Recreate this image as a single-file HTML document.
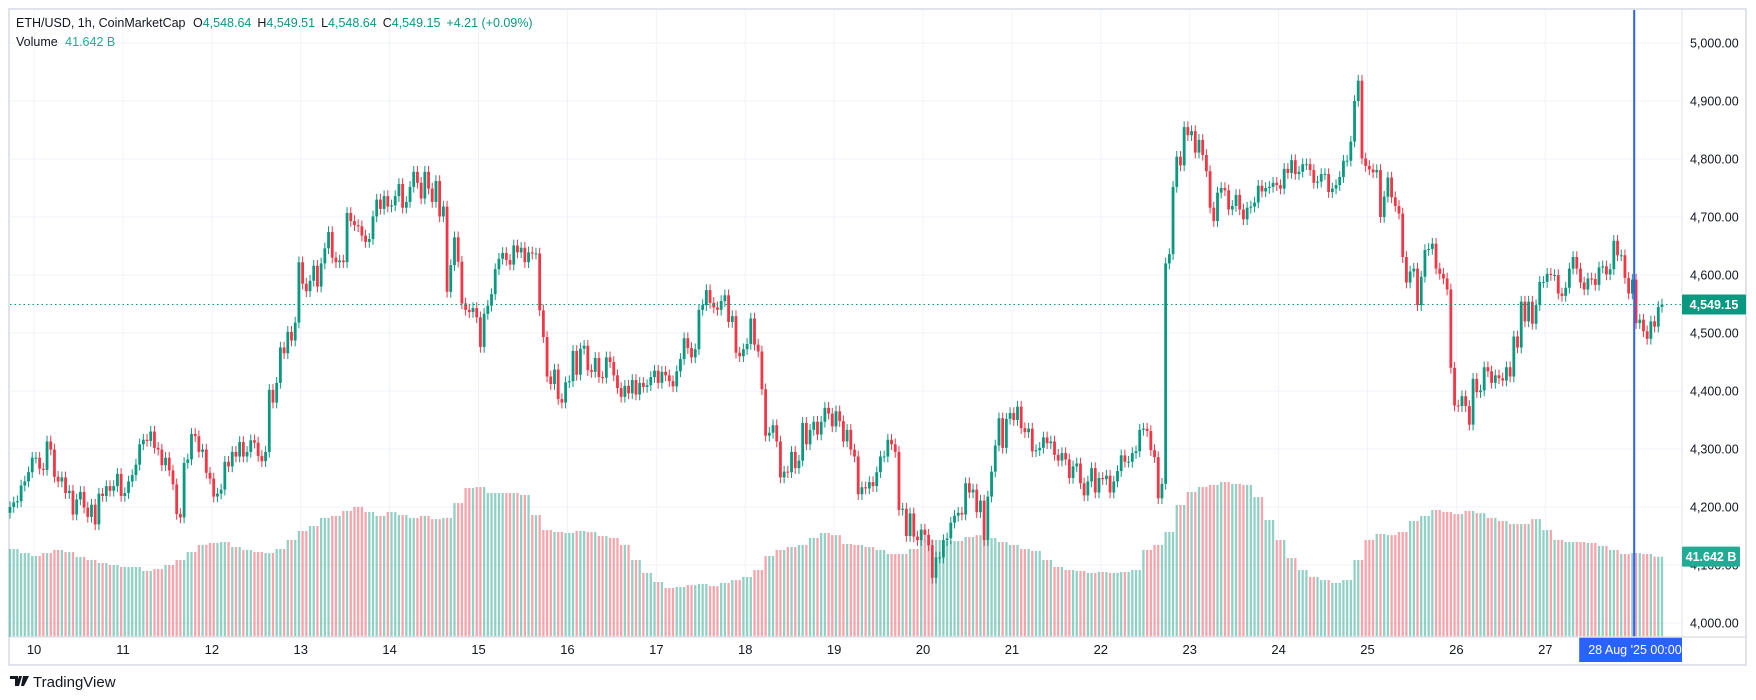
<!DOCTYPE html>
<html><head><meta charset="utf-8"><style>
html,body{margin:0;padding:0;background:#fff;width:1756px;height:700px;overflow:hidden;font-family:"Liberation Sans",sans-serif;}
svg{display:block}
</style></head><body>
<svg id="chart" width="1756" height="700" xmlns="http://www.w3.org/2000/svg" font-family="Liberation Sans, sans-serif">
<rect x="0" y="0" width="1756" height="700" fill="#fff"/>
<rect x="9" y="9" width="1737" height="656" fill="none" stroke="#e0e3eb" stroke-width="2"/>
<g id="grid"></g>
<g id="vol"></g>
<g id="candles"></g>
<g id="overlay"></g>
<line x1="10" y1="637" x2="1746" y2="637" stroke="#e0e3eb" stroke-width="1.5"/>
<line x1="1682" y1="10" x2="1682" y2="637" stroke="#e0e3eb" stroke-width="1"/>
<g id="yaxis"></g>
<g id="xaxis"></g>
<g font-size="12.5">
<text x="16" y="27" fill="#131722">ETH/USD, 1h, CoinMarketCap <tspan dx="4">O</tspan><tspan fill="#089981">4,548.64</tspan><tspan dx="6">H</tspan><tspan fill="#089981">4,549.51</tspan><tspan dx="6">L</tspan><tspan fill="#089981">4,548.64</tspan><tspan dx="6">C</tspan><tspan fill="#089981">4,549.15</tspan><tspan dx="6" fill="#089981">+4.21 (+0.09%)</tspan></text>
<text x="16" y="46" fill="#131722">Volume <tspan dx="4" fill="#22ab94">41.642 B</tspan></text>
</g>
<g>
<path d="M10 676h8v10h-3v-7h-5z M19 676h3l-3 10h-3z M23 676h6l-5 10h-3z" fill="#131722"/>
<text x="33" y="687" font-size="15" fill="#131722">TradingView</text>
</g>
</svg>
<script>
const closes = [
4200,4208,4210,4237,4244,4260,4285,4285,4266,4264,4313,4299,4252,4244,4251,4224,4228,4187,4213,4226,
4199,4183,4204,4170,4223,4219,4236,4228,4236,4257,4219,4224,4244,4255,4273,4308,4316,4314,4330,4302,
4299,4272,4285,4263,4239,4188,4182,4276,4282,4326,4322,4295,4299,4259,4249,4218,4223,4230,4278,4270,
4295,4287,4312,4287,4295,4315,4311,4288,4279,4295,4402,4380,4414,4475,4465,4502,4487,4518,4622,
4585,4572,4590,4616,4580,4620,4646,4674,4630,4622,4625,4622,4707,4693,4686,4684,4668,4657,4662,4701,
4730,4714,4736,4718,4720,4736,4757,4716,4726,4752,4778,4759,4732,4778,4749,4726,4762,4701,4718,4571,
4617,4665,4623,4551,4540,4536,4543,4527,4476,4533,4547,4567,4610,4628,4638,4626,4618,4651,4639,4647,
4622,4639,4637,4637,4539,4493,4425,4412,4437,4386,4380,4415,4417,4469,4428,4473,4478,4436,
4433,4457,4424,4423,4458,4450,4427,4405,4390,4409,4396,4419,4394,4414,4407,4410,4424,4435,4414,4433,
4427,4417,4408,4434,4455,4491,4474,4458,4472,4540,4548,4574,4552,4544,4540,4555,4565,4519,4529,4466,
4460,4472,4481,4525,4480,4468,4403,4323,4328,4341,4313,4251,4261,4260,4295,4267,4280,4345,4308,4333,
4347,4325,4347,4371,4361,4339,4365,4348,4313,4333,4299,4287,4222,4234,4232,4243,4236,4260,
4287,4287,4316,4308,4295,4195,4197,4150,4189,4149,4143,4161,4152,4134,4078,4113,4113,4143,4146,4173,
4185,4190,4187,4241,4225,4230,4191,4211,4143,4218,4261,4306,4353,4302,4352,4362,4350,4373,4336,4329,
4335,4296,4298,4302,4320,4310,4313,4290,4280,4293,4282,4250,4270,4275,4241,4220,4244,4267,4225,4250,
4248,4254,4225,4244,4262,4289,4278,4278,4293,4296,4333,
4335,4331,4298,4286,4215,4240,4620,4636,4752,4804,4789,4855,4841,4848,4811,4833,4807,4779,4716,4693,
4742,4750,4746,4713,4719,4738,4713,4696,4716,4718,4725,4754,4744,4750,4752,4759,4755,4749,4783,4776,
4798,4774,4778,4791,4791,4781,4759,4761,4774,4774,4743,4749,4755,4769,4797,4797,4830,4900,4935,4801,
4788,4782,4777,4781,4700,4735,4768,4734,4719,4706,
4631,4587,4606,4611,4548,4597,4643,4645,4654,4611,4602,4594,4575,4440,4375,4374,4391,4374,4342,4421,
4398,4401,4441,4434,4414,4427,4422,4418,4441,4425,4494,4475,4554,4520,4554,4516,4548,4588,4588,4602,
4600,4600,4568,4564,4578,4611,4631,4611,4587,4575,4594,4593,4583,4613,4615,4601,4610,4659,4634,4634,
4595,4568,4592,4517,4523,4503,4490,4520,4511,4545,4549.15
];
const firstOpen = 4190;
// volume in billions, one value per 3-hour block
const volumes = [
45.6,43.5,42.0,43.5,45.1,44.0,41.5,39.9,38.3,37.3,36.3,36.3,34.2,35.2,37.3,39.9,44.0,47.7,48.7,49.2,
46.6,45.1,44.0,43.5,45.6,50.3,54.9,57.5,61.7,62.7,65.3,67.4,64.8,62.7,64.8,63.2,61.7,62.7,61.1,61.7,
69.4,77.2,77.7,74.6,74.6,74.6,73.6,63.2,55.4,54.4,53.9,54.9,54.4,52.3,51.3,47.7,39.9,33.2,28.5,25.4,
25.9,26.9,27.5,26.4,28.0,29.5,31.1,34.7,42.0,45.1,46.6,47.7,51.3,53.9,52.8,48.2,47.7,46.6,45.1,43.0,
43.0,45.6,50.3,50.3,49.7,49.7,51.8,52.8,51.3,49.2,47.7,45.6,44.6,39.9,36.3,34.7,34.2,33.2,33.7,33.2,
33.7,34.7,45.1,47.7,54.4,68.4,75.1,77.7,78.8,80.3,79.3,78.8,72.5,60.6,50.3,40.9,34.7,31.1,29.5,28.0,
29.5,39.9,50.3,53.4,52.8,54.4,60.1,62.7,65.8,64.8,63.7,65.3,64.2,61.7,60.1,58.5,58.5,61.1,55.4,50.3,
49.2,49.2,48.7,47.2,45.1,43.0,43.5,43.0,41.642
];
const dayLabels = ['10','11','12','13','14','15','16','17','18','19','20','21','22','23','24','25','26','27'];
const priceTicks = [4000,4100,4200,4300,4400,4500,4600,4700,4800,4900,5000];

const NS='http://www.w3.org/2000/svg';
const X0=10, STEP=3.704, MID0=6.5;
function xAt(i){return X0+i*STEP;}
function yPrice(p){return 623-(p-4000)*0.58;}
function yVol(v){return 637-v*1.93;}
function mk(tag,attrs,parent){const e=document.createElementNS(NS,tag);for(const k in attrs)e.setAttribute(k,attrs[k]);parent.appendChild(e);return e;}
const grid=document.getElementById('grid'),volG=document.getElementById('vol'),cG=document.getElementById('candles'),ov=document.getElementById('overlay'),ya=document.getElementById('yaxis'),xa=document.getElementById('xaxis');
function fmt(p){return p.toLocaleString('en-US',{minimumFractionDigits:2,maximumFractionDigits:2});}

priceTicks.forEach(p=>{
  const l=mk('line',{x1:10,x2:1682,y1:yPrice(p),y2:yPrice(p),stroke:'#f0f3fa','stroke-width':1},grid);
  
  
  const t=mk('text',{x:1690,y:yPrice(p)+4.5,'font-size':12.5,fill:'#131722'},ya);
  t.textContent=fmt(p);
  
  
});
dayLabels.forEach((d,k)=>{
  const x=xAt(MID0+24*k);
  const l=mk('line',{x1:x,x2:x,y1:10,y2:637,stroke:'#f0f3fa','stroke-width':1},grid);
  
  
  const t=mk('text',{x:x,y:654,'font-size':13,fill:'#131722','text-anchor':'middle'},xa);
  t.textContent=d;
  
  
});

let prev=firstOpen;
closes.forEach((c,i)=>{
  const o=prev; prev=c;
  const up=c>=o;
  const col=up?'#089981':'#f23645';
  const x=xAt(i);
  const v=volumes[Math.floor(i/3)];
  const vb=mk('rect',{x:x-1.15,y:yVol(v),width:2.3,height:637-yVol(v),fill:up?'rgba(8,153,129,0.45)':'rgba(242,54,69,0.45)'},volG);
  
  
  const hi=Math.max(o,c)+10, lo=Math.min(o,c)-10;
  const w=mk('line',{x1:x,x2:x,y1:yPrice(hi),y2:yPrice(lo),stroke:col,'stroke-width':1},cG);
  
  
  const top=yPrice(Math.max(o,c)), h=Math.max(1,yPrice(Math.min(o,c))-top);
  const b=mk('rect',{x:x-1.4,y:top,width:2.8,height:h,fill:col},cG);
  
  
});

const last=closes[closes.length-1];
const dl=mk('line',{x1:10,x2:1682,y1:yPrice(last),y2:yPrice(last),stroke:'#089981','stroke-width':1,'stroke-dasharray':'1.5 3'},ov);


const bx=xAt(MID0+24*18);
const bl=mk('line',{x1:bx,x2:bx,y1:10,y2:637,stroke:'#2962ff','stroke-width':2},ov);


const bt=mk('rect',{x:bx-55,y:637,width:1682-(bx-55),height:25,fill:'#2962ff'},ov);


const btt=mk('text',{x:bx-46,y:654,'font-size':12.5,fill:'#fff'},ov);
btt.textContent="28 Aug '25   00:00";


btt.setAttribute('xml:space','preserve');

const pl=mk('rect',{x:1682,y:yPrice(last)-10,width:64,height:20,fill:'#089981',rx:1},ya);


const plt=mk('text',{x:1714,y:yPrice(last)+4.5,'font-size':12.5,'font-weight':'bold',fill:'#fff','text-anchor':'middle'},ya);
plt.textContent=fmt(last);


const lv=volumes[volumes.length-1];
const vl=mk('rect',{x:1682,y:yVol(lv)-10,width:58,height:20,fill:'#22ab94',rx:1},ya);


const vlt=mk('text',{x:1711,y:yVol(lv)+4.5,'font-size':12.5,'font-weight':'bold',fill:'#fff','text-anchor':'middle'},ya);
vlt.textContent=lv.toFixed(3)+' B';


</script>
</body></html>
